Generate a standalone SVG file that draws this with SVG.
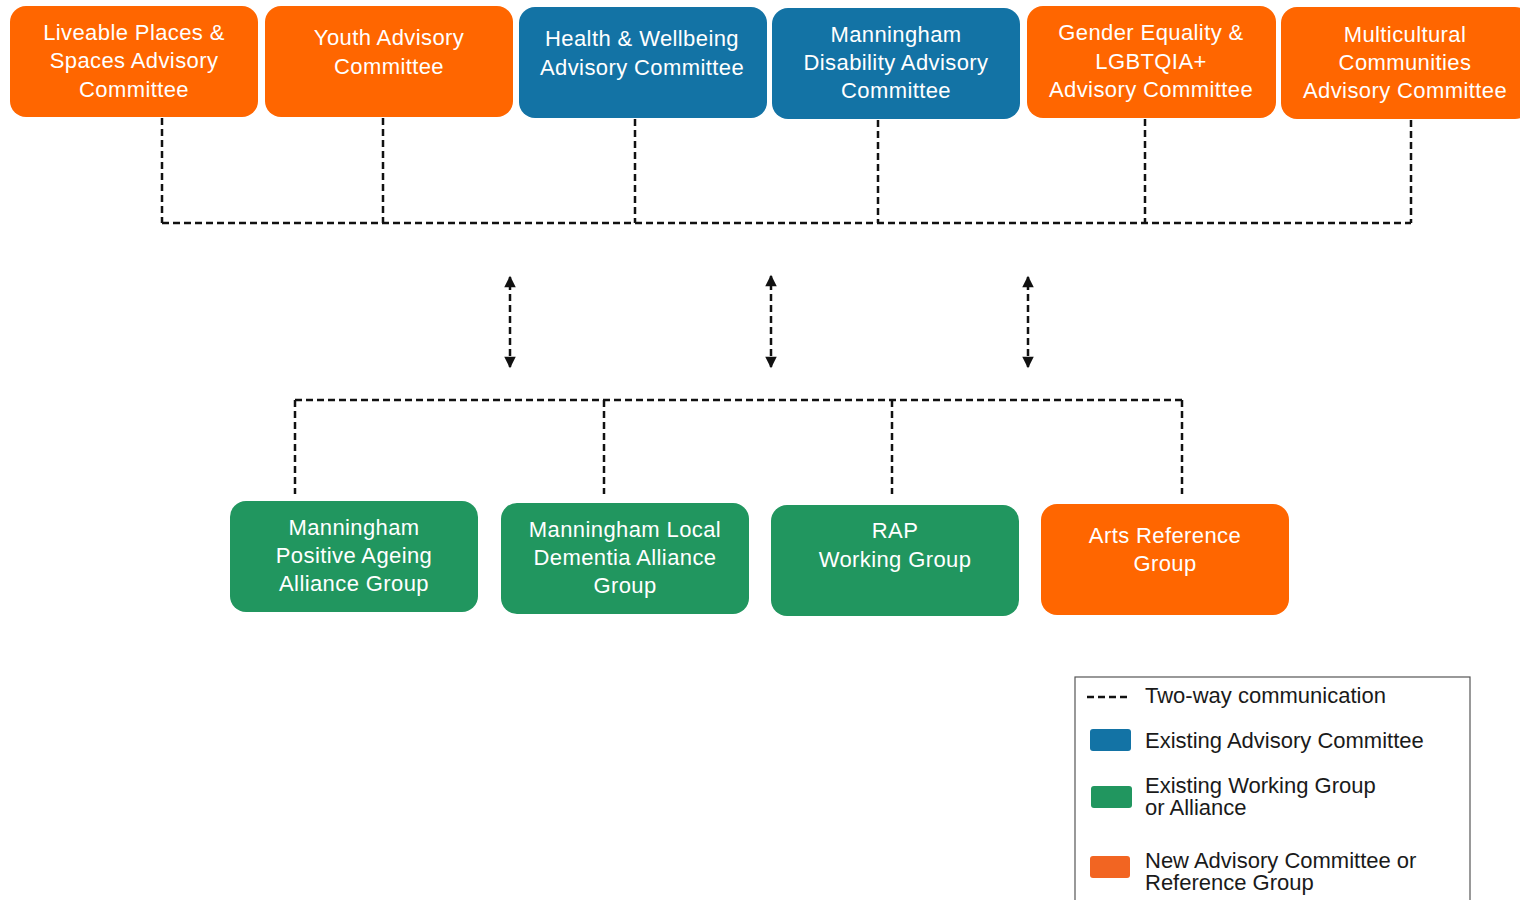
<svg xmlns="http://www.w3.org/2000/svg" width="1520" height="900" viewBox="0 0 1520 900">
<defs>
<marker id="ah" viewBox="0 0 10 10" refX="9" refY="5" markerWidth="5" markerHeight="4.6" orient="auto-start-reverse" markerUnits="strokeWidth">
<path d="M0,0 L10,5 L0,10 z" fill="#111"/>
</marker>
<style>
.orange{fill:#FF6600}
.blue{fill:#1373A5}
.green{fill:#21965F}
.box{stroke:none}
.bt{font-family:"Liberation Sans",Arial,sans-serif;font-size:22px;letter-spacing:0.4px;fill:#fff;text-anchor:middle}
.lt{font-family:"Liberation Sans",Arial,sans-serif;font-size:22px;fill:#1a1a1a}
.dash{fill:none;stroke:#111;stroke-width:2.5;stroke-dasharray:7,4}
</style>
</defs>
<rect width="1520" height="900" fill="#fff"/>

<g id="connectors">
<path class="dash" d="M162,118 V223 M383,118 V223 M635,119 V223 M878,120 V223 M1145,119 V223 M1411,120 V223 M162,223 H1411"/>
<path class="dash" d="M295,400 V494 M604,400 V494 M892,400 V494 M1182,400 V494 M295,400 H1182"/>
<line class="dash" x1="510" y1="367" x2="510" y2="277" stroke-dasharray="6,4" marker-start="url(#ah)" marker-end="url(#ah)"/>
<line class="dash" x1="771" y1="367" x2="771" y2="276" stroke-dasharray="6,4" marker-start="url(#ah)" marker-end="url(#ah)"/>
<line class="dash" x1="1028" y1="367" x2="1028" y2="277" stroke-dasharray="6,4" marker-start="url(#ah)" marker-end="url(#ah)"/>
</g>

<g id="n-liveable">
<rect class="box orange" x="10" y="6" width="248" height="111" rx="16"/>
<text class="bt"><tspan x="134" y="40">Liveable Places &amp;</tspan><tspan x="134" y="68">Spaces Advisory</tspan><tspan x="134" y="97">Committee</tspan></text>
</g>
<g id="n-youth">
<rect class="box orange" x="265" y="6" width="248" height="111" rx="16"/>
<text class="bt"><tspan x="389" y="45">Youth Advisory</tspan><tspan x="389" y="74">Committee</tspan></text>
</g>
<g id="n-health">
<rect class="box blue" x="519" y="7" width="248" height="111" rx="16"/>
<text class="bt"><tspan x="642" y="46">Health &amp; Wellbeing</tspan><tspan x="642" y="75">Advisory Committee</tspan></text>
</g>
<g id="n-disability">
<rect class="box blue" x="772" y="8" width="248" height="111" rx="16"/>
<text class="bt"><tspan x="896" y="42">Manningham</tspan><tspan x="896" y="70">Disability Advisory</tspan><tspan x="896" y="98">Committee</tspan></text>
</g>
<g id="n-gender">
<rect class="box orange" x="1027" y="6" width="249" height="112" rx="16"/>
<text class="bt"><tspan x="1151" y="40">Gender Equality &amp;</tspan><tspan x="1151" y="69">LGBTQIA+</tspan><tspan x="1151" y="97">Advisory Committee</tspan></text>
</g>
<g id="n-multicultural">
<rect class="box orange" x="1281" y="7" width="250" height="112" rx="16"/>
<text class="bt"><tspan x="1405" y="42">Multicultural</tspan><tspan x="1405" y="70">Communities</tspan><tspan x="1405" y="98">Advisory Committee</tspan></text>
</g>

<g id="n-ageing">
<rect class="box green" x="230" y="501" width="248" height="111" rx="16"/>
<text class="bt"><tspan x="354" y="535">Manningham</tspan><tspan x="354" y="563">Positive Ageing</tspan><tspan x="354" y="591">Alliance Group</tspan></text>
</g>
<g id="n-dementia">
<rect class="box green" x="501" y="503" width="248" height="111" rx="16"/>
<text class="bt"><tspan x="625" y="537">Manningham Local</tspan><tspan x="625" y="565">Dementia Alliance</tspan><tspan x="625" y="593">Group</tspan></text>
</g>
<g id="n-rap">
<rect class="box green" x="771" y="505" width="248" height="111" rx="16"/>
<text class="bt"><tspan x="895" y="538">RAP</tspan><tspan x="895" y="567">Working Group</tspan></text>
</g>
<g id="n-arts">
<rect class="box orange" x="1041" y="504" width="248" height="111" rx="16"/>
<text class="bt"><tspan x="1165" y="543">Arts Reference</tspan><tspan x="1165" y="571">Group</tspan></text>
</g>

<g id="legend">
<rect x="1075" y="677" width="395" height="240" fill="#fff" stroke="#555" stroke-width="1.2"/>
<line x1="1087" y1="697" x2="1128" y2="697" stroke="#111" stroke-width="2.5" stroke-dasharray="7,4"/>
<text class="lt" x="1145" y="703">Two-way communication</text>
<rect x="1090" y="729" width="41" height="22" rx="3" fill="#1373A5"/>
<text class="lt" x="1145" y="748">Existing Advisory Committee</text>
<rect x="1091" y="786" width="41" height="22" rx="3" fill="#21965F"/>
<text class="lt"><tspan x="1145" y="793">Existing Working Group</tspan><tspan x="1145" y="815">or Alliance</tspan></text>
<rect x="1090" y="856" width="40" height="22" rx="3" fill="#F26522"/>
<text class="lt"><tspan x="1145" y="868">New Advisory Committee or</tspan><tspan x="1145" y="890">Reference Group</tspan></text>
</g>
</svg>
